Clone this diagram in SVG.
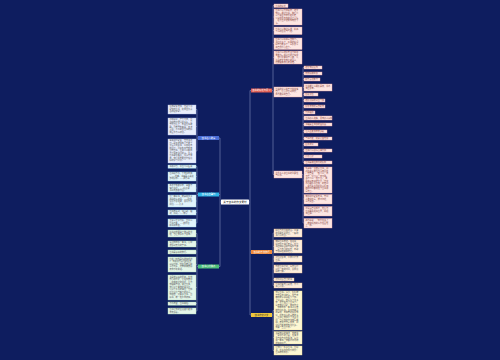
<svg xmlns="http://www.w3.org/2000/svg" width="500" height="360" viewBox="0 0 500 360">
<style>
.t{font-family:"Noto Sans CJK SC","Noto Sans",sans-serif;font-size:2.1px;fill:#5a5a5a}
.tr{font-family:"Noto Sans CJK SC","Noto Sans",sans-serif;font-size:2.1px;fill:#8a4a45}
.h{font-family:"Noto Sans CJK SC","Noto Sans",sans-serif;font-size:2.3px;fill:#fff;text-anchor:middle}
.c{font-family:"Noto Sans CJK SC","Noto Sans",sans-serif;font-size:2.6px;fill:#222;text-anchor:middle}
.lb{fill:#e9eefc;stroke:#aebde8;stroke-width:0.4}
.lc{fill:#e1f4fb;stroke:#9fd6ec;stroke-width:0.4}
.lg{fill:#e5f6ea;stroke:#a8dcb8;stroke-width:0.4}
.lr{fill:#fde6e3;stroke:#eea79f;stroke-width:0.4}
.lo{fill:#fdeedd;stroke:#f0bf90;stroke-width:0.4}
.ly{fill:#fdf7d3;stroke:#eedc8a;stroke-width:0.4}
.k{fill:none;stroke:#9aa6cc;stroke-width:0.5}
</style>
<rect width="500" height="360" fill="#0e1d5f"/>
<g id="connectors" class="k">
<path d="M221,202H220M220,138V266.5M220,138H219M220,194.5H219M220,266.5H219"/>
<path d="M198,138H197M197,109.5V151M197,109.5H196M197,126.5H196M197,151H196"/>
<path d="M198,194.5H197M197,166.5V223M197,166.5H196M197,176.5H196M197,188H196M197,201H196M197,212.5H196M197,223H196"/>
<path d="M198,266.5H197M197,233.5V311M197,233.5H196M197,244H196M197,252H196M197,264.5H196M197,287.5H196M197,303.5H196M197,311H196"/>
<path d="M249,202H250M250,90.5V315M250,90.5H251M250,252H251M250,315H251"/>
<path d="M272,90.5H273M273,5.5V174.5M273,5.5H274M273,17H274M273,30.5H274M273,43.5H274M273,57.5H274M273,92H274M273,174.5H274"/>
<path d="M302,92H303M303,67.5V162.5M303,67.5H304M303,73.5H304M303,79.5H304M303,87.5H304M303,94.5H304M303,100.5H304M303,106.5H304M303,112.5H304M303,118H304M303,124.5H304M303,131.5H304M303,138.5H304M303,144.5H304M303,150.5H304M303,156.5H304M303,162.5H304"/>
<path d="M302,174.5H303M303,174.5V223M303,180H304M303,199H304M303,211H304M303,223H304"/>
<path d="M272,252H273M273,233V285.5M273,233H274M273,246.5H274M273,259H274M273,269H274M273,279.5H274M273,285.5H274"/>
<path d="M272,315H273M273,310.5V350.5M273,310.5H274M273,337.5H274M273,350.5H274"/>
</g>
<g id="center"><rect x="221" y="199.5" width="28" height="5" rx="0.6" fill="#fff"/><text class="c" x="235" y="203">关于读书的作文素材</text></g>
<g id="b-blue"><rect x="198" y="136" width="21" height="4" fill="#4a6ed8"/><text class="h" x="208.5" y="138.9">读书名人故事</text></g>
<g id="b-cyan"><rect x="198" y="192.5" width="21" height="4" fill="#2fb4e6"/><text class="h" x="208.5" y="195.4">读书名言警句</text></g>
<g id="b-green"><rect x="198" y="264.5" width="21" height="4" fill="#4cc07a"/><text class="h" x="208.5" y="267.4">读书心得体会</text></g>
<g id="b-red"><rect x="251" y="88.5" width="21" height="4" fill="#e05a50"/><text class="h" x="261.5" y="91.4">读书的好处与意义</text></g>
<g id="b-orange"><rect x="251" y="250" width="21" height="4" fill="#f08a3c"/><text class="h" x="261.5" y="252.9">读书的方法技巧</text></g>
<g id="b-yellow"><rect x="251" y="313" width="21" height="4" fill="#efc63c"/><text class="h" x="261.5" y="315.9" style="fill:#333">读书作文范文</text></g>

<g id="l1"><rect class="lb" x="168" y="105" width="28" height="9"/><text class="t"><tspan x="169.4" y="107.4">匡衡家贫无烛，凿壁引邻</tspan><tspan x="169.4" y="109.9">家烛光读书，终成西汉著</tspan><tspan x="169.4" y="112.4">名的经学家。</tspan></text></g>
<g id="l2"><rect class="lb" x="168" y="118" width="28" height="17"/><text class="t"><tspan x="169.4" y="120.4">孙敬好学，晨夕不休，读</tspan><tspan x="169.4" y="122.9">书疲倦时便以绳系头，悬</tspan><tspan x="169.4" y="125.4">于屋梁之上；苏秦读书欲</tspan><tspan x="169.4" y="127.9">睡，引锥自刺其股，血流</tspan><tspan x="169.4" y="130.4">至足。二人刻苦读书的精</tspan><tspan x="169.4" y="132.9">神至今为人称道。</tspan></text></g>
<g id="l3"><rect class="lb" x="168" y="139" width="28" height="24"/><text class="t"><tspan x="169.4" y="141.4">车胤幼时家贫，常无油点</tspan><tspan x="169.4" y="143.9">灯，夏夜便用练囊装数十</tspan><tspan x="169.4" y="146.4">只萤火虫照书，以夜继日</tspan><tspan x="169.4" y="148.9">地苦读；孙康冬夜常映着</tspan><tspan x="169.4" y="151.4">雪光读书，后来二人都成</tspan><tspan x="169.4" y="153.9">为了很有学问的人。古人</tspan><tspan x="169.4" y="156.4">读书条件艰苦，却从不放</tspan><tspan x="169.4" y="158.9">弃，我们今天更应珍惜良</tspan><tspan x="169.4" y="161.4">好的学习环境。</tspan></text></g>
<g id="l4"><rect class="lc" x="168" y="165" width="28" height="3.2"/><text class="t"><tspan x="169.4" y="167.4">书犹药也，善读可以医愚</tspan></text></g>
<g id="l5"><rect class="lc" x="168" y="172" width="28" height="9"/><text class="t"><tspan x="169.4" y="174.4">读书破万卷，下笔如有神</tspan><tspan x="169.4" y="176.9">。——杜甫。书籍是人类进</tspan><tspan x="169.4" y="179.4">步的阶梯。——高尔基</tspan></text></g>
<g id="l6"><rect class="lc" x="168" y="184" width="28" height="8"/><text class="t"><tspan x="169.4" y="186.2">黑发不知勤学早，白首方</tspan><tspan x="169.4" y="188.6">悔读书迟。——颜真卿</tspan><tspan x="169.4" y="191">书山有路勤为径。</tspan></text></g>
<g id="l7"><rect class="lc" x="168" y="195" width="28" height="12"/><text class="t"><tspan x="169.4" y="197.4">读一本好书，就是和许多</tspan><tspan x="169.4" y="199.9">高尚的人谈话。——歌德</tspan><tspan x="169.4" y="202.4">学而不思则罔，思而不学</tspan><tspan x="169.4" y="204.9">则殆。——孔子</tspan></text></g>
<g id="l8"><rect class="lc" x="168" y="210" width="28" height="5"/><text class="t"><tspan x="169.4" y="212">读书有三到，谓心到、眼</tspan><tspan x="169.4" y="214.4">到、口到。——朱熹</tspan></text></g>
<g id="l9"><rect class="lc" x="168" y="219" width="28" height="8"/><text class="t"><tspan x="169.4" y="221.2">立身以立学为先，立学以</tspan><tspan x="169.4" y="223.6">读书为本。——欧阳修</tspan><tspan x="169.4" y="226">好书如挚友。</tspan></text></g>
<g id="l10"><rect class="lg" x="168" y="230" width="28" height="7"/><text class="t"><tspan x="169.4" y="232.6">读书使我明白了做人的道</tspan><tspan x="169.4" y="235.1">理，也让我学会了思考。</tspan></text></g>
<g id="l11"><rect class="lg" x="168" y="241" width="28" height="6"/><text class="t"><tspan x="169.4" y="243.2">每当我捧起一本书，心中</tspan><tspan x="169.4" y="245.7">便感到无比的宁静。</tspan></text></g>
<g id="l12"><rect class="lg" x="168" y="250" width="28" height="4"/><text class="t"><tspan x="169.4" y="252.8">读书是最好的旅行。</tspan></text></g>
<g id="l13"><rect class="lg" x="168" y="257" width="28" height="15"/><text class="t"><tspan x="169.4" y="259.6">读完《钢铁是怎样炼成的</tspan><tspan x="169.4" y="262.1">》，我被保尔顽强的意志</tspan><tspan x="169.4" y="264.6">深深打动。他在困难面前</tspan><tspan x="169.4" y="267.1">从不低头，这种精神激励</tspan><tspan x="169.4" y="269.6">着我不断前进。</tspan></text></g>
<g id="l14"><rect class="lg" x="168" y="275" width="28" height="25"/><text class="t"><tspan x="169.4" y="277.6">书是我最好的朋友。在我</tspan><tspan x="169.4" y="280.1">伤心的时候，它给我安慰</tspan><tspan x="169.4" y="282.6">；在我迷茫的时候，它为</tspan><tspan x="169.4" y="285.1">我指明方向。通过读书，</tspan><tspan x="169.4" y="287.6">我认识了勇敢的鲁滨孙，</tspan><tspan x="169.4" y="290.1">认识了善良的海伦，也懂</tspan><tspan x="169.4" y="292.6">得了坚持与努力的意义。</tspan><tspan x="169.4" y="295.1">我相信，只要多读书、读</tspan><tspan x="169.4" y="297.6">好书，就一定会有收获。</tspan></text></g>
<g id="l15"><rect class="lg" x="168" y="302" width="28" height="3.2"/><text class="t"><tspan x="169.4" y="304.4">开卷有益，读书明理。</tspan></text></g>
<g id="l16"><rect class="lg" x="168" y="308" width="28" height="6"/><text class="t"><tspan x="169.4" y="310.2">读书让我的生活变得更加</tspan><tspan x="169.4" y="312.7">丰富多彩。</tspan></text></g>

<g id="r1"><rect class="lr" x="274" y="4" width="14" height="3.5"/><text class="tr"><tspan x="275.4" y="6.5">读书的好处</tspan></text></g>
<g id="r2"><rect class="lr" x="274" y="9" width="28" height="16"/><text class="tr"><tspan x="275.4" y="11.4">读书可以开阔视野，增长</tspan><tspan x="275.4" y="13.9">知识。通过读书，我们可</tspan><tspan x="275.4" y="16.4">以了解古今中外的历史，</tspan><tspan x="275.4" y="18.9">认识世界各地的风土人情</tspan><tspan x="275.4" y="21.4">，足不出户便能知晓天下</tspan><tspan x="275.4" y="23.9">事。</tspan></text></g>
<g id="r3"><rect class="lr" x="274" y="27" width="28" height="7.5"/><text class="tr"><tspan x="275.4" y="29.8">读书可以陶冶情操，提高</tspan><tspan x="275.4" y="32.3">个人的修养与气质。</tspan></text></g>
<g id="r4"><rect class="lr" x="274" y="38" width="28" height="11.5"/><text class="tr"><tspan x="275.4" y="40.4">读书可以提高写作能力。</tspan><tspan x="275.4" y="42.9">书读得多了，积累的好词</tspan><tspan x="275.4" y="45.4">好句也就多了，写起文章</tspan><tspan x="275.4" y="47.9">来自然得心应手。</tspan></text></g>
<g id="r5"><rect class="lr" x="274" y="51" width="28" height="13"/><text class="tr"><tspan x="275.4" y="53.2">读书可以培养专注力和思</tspan><tspan x="275.4" y="55.7">考能力。在阅读的过程中</tspan><tspan x="275.4" y="58.2">，我们需要静下心来，认</tspan><tspan x="275.4" y="60.7">真品味文字背后的含义，</tspan><tspan x="275.4" y="63.2">这能锻炼我们的思维。</tspan></text></g>
<g id="r6"><rect class="lr" x="274" y="87" width="28" height="10"/><text class="tr"><tspan x="275.4" y="89.6">读书的意义在于不断充实</tspan><tspan x="275.4" y="92.1">自己，让心灵得到成长，</tspan><tspan x="275.4" y="94.6">成为更好的自己。</tspan></text></g>
<g id="r7"><rect class="lr" x="274" y="171" width="28" height="7"/><text class="tr"><tspan x="275.4" y="173.6">古今名人谈读书的重要性</tspan><tspan x="275.4" y="176.1">与价值。</tspan></text></g>

<g id="s1"><rect class="lr" x="304" y="66" width="18" height="3"/><text class="tr"><tspan x="305.3" y="68.3">增长知识见闻</tspan></text></g>
<g id="s2"><rect class="lr" x="304" y="72" width="18" height="3"/><text class="tr"><tspan x="305.3" y="74.3">丰富精神世界</tspan></text></g>
<g id="s3"><rect class="lr" x="304" y="78" width="16" height="3"/><text class="tr"><tspan x="305.3" y="80.3">提升表达能力</tspan></text></g>
<g id="s4"><rect class="lr" x="304" y="84" width="28" height="7"/><text class="tr"><tspan x="305.4" y="86.6">读书能让人明辨是非，学会</tspan><tspan x="305.4" y="89.1">独立思考。</tspan></text></g>
<g id="s5"><rect class="lr" x="304" y="93" width="14" height="3"/><text class="tr"><tspan x="305.3" y="95.3">修身养性</tspan></text></g>
<g id="s6"><rect class="lr" x="304" y="99" width="21" height="3"/><text class="tr"><tspan x="305.3" y="101.3">培养良好的阅读习惯</tspan></text></g>
<g id="s7"><rect class="lr" x="304" y="105" width="21" height="3"/><text class="tr"><tspan x="305.3" y="107.3">积累丰富的写作素材</tspan></text></g>
<g id="s8"><rect class="lr" x="304" y="111" width="11" height="3"/><text class="tr"><tspan x="305.3" y="113.3">开阔眼界</tspan></text></g>
<g id="s9"><rect class="lr" x="304" y="116" width="28" height="4"/><text class="tr"><tspan x="305.4" y="118.8">读书使人充实，思考使人深刻</tspan></text></g>
<g id="s10"><rect class="lr" x="304" y="123" width="28" height="3"/><text class="tr"><tspan x="305.4" y="125.3">书籍是全世界的营养品</tspan></text></g>
<g id="s11"><rect class="lr" x="304" y="130" width="23" height="3"/><text class="tr"><tspan x="305.4" y="132.3">让人生更加丰富多彩</tspan></text></g>
<g id="s12"><rect class="lr" x="304" y="137" width="28" height="3"/><text class="tr"><tspan x="305.4" y="139.3">与书为友，终身受益无穷</tspan></text></g>
<g id="s13"><rect class="lr" x="304" y="143" width="14" height="3"/><text class="tr"><tspan x="305.3" y="145.3">启迪智慧</tspan></text></g>
<g id="s14"><rect class="lr" x="304" y="149" width="28" height="3"/><text class="tr"><tspan x="305.4" y="151.3">读书可以使人心胸开阔</tspan></text></g>
<g id="s15"><rect class="lr" x="304" y="155" width="18" height="3"/><text class="tr"><tspan x="305.3" y="157.3">净化心灵</tspan></text></g>
<g id="s16"><rect class="lr" x="304" y="161" width="28" height="3"/><text class="tr"><tspan x="305.4" y="163.3">读书是通往成功的阶梯</tspan></text></g>

<g id="m1"><rect class="lr" x="304" y="167" width="28" height="26"/><text class="tr"><tspan x="305.4" y="169.4">毛泽东一生酷爱读书，即</tspan><tspan x="305.4" y="171.9">使在战争年代也从未间断</tspan><tspan x="305.4" y="174.4">。他曾说：“饭可以一日</tspan><tspan x="305.4" y="176.9">不吃，觉可以一日不睡，</tspan><tspan x="305.4" y="179.4">书不可以一日不读。”周</tspan><tspan x="305.4" y="181.9">恩来少年时便立下“为中</tspan><tspan x="305.4" y="184.4">华之崛起而读书”的志向</tspan><tspan x="305.4" y="186.9">。鲁迅先生也把别人喝咖</tspan><tspan x="305.4" y="189.4">啡的时间都用在了读书和</tspan><tspan x="305.4" y="191.9">写作上。</tspan></text></g>
<g id="m2"><rect class="lr" x="304" y="194.5" width="28" height="9.5"/><text class="tr"><tspan x="305.4" y="197">宋濂幼时家贫无书，常向</tspan><tspan x="305.4" y="199.5">人借书抄写，按时归还，</tspan><tspan x="305.4" y="202">从不失信。</tspan></text></g>
<g id="m3"><rect class="lr" x="304" y="206.5" width="28" height="9.5"/><text class="tr"><tspan x="305.4" y="209">华罗庚自学成才，他认为</tspan><tspan x="305.4" y="211.5">读书要先把书读厚，再把</tspan><tspan x="305.4" y="214">书读薄。</tspan></text></g>
<g id="m4"><rect class="lr" x="304" y="218.5" width="28" height="9.5"/><text class="tr"><tspan x="305.4" y="221">高尔基说：“我扑在书上</tspan><tspan x="305.4" y="223.5">，就像饥饿的人扑在面包</tspan><tspan x="305.4" y="226">上一样。”</tspan></text></g>

<g id="o1"><rect class="lo" x="274" y="229" width="28" height="8"/><text class="t"><tspan x="275.4" y="231.2">精读与泛读相结合。重要</tspan><tspan x="275.4" y="233.6">的书要反复研读，一般的</tspan><tspan x="275.4" y="236">书可以浏览。</tspan></text></g>
<g id="o2"><rect class="lo" x="274" y="240" width="28" height="13"/><text class="t"><tspan x="275.4" y="242.2">做好读书笔记。俗话说，</tspan><tspan x="275.4" y="244.7">好记性不如烂笔头。在读</tspan><tspan x="275.4" y="247.2">书时将好词好句摘抄下来</tspan><tspan x="275.4" y="249.7">，写下自己的感想，有助</tspan><tspan x="275.4" y="252.2">于加深理解和记忆。</tspan></text></g>
<g id="o3"><rect class="lo" x="274" y="256" width="28" height="6"/><text class="t"><tspan x="275.4" y="258.2">边读边思考，带着问题去</tspan><tspan x="275.4" y="260.7">读书。</tspan></text></g>
<g id="o4"><rect class="lo" x="274" y="265" width="28" height="8"/><text class="t"><tspan x="275.4" y="267.2">制定读书计划，每天坚持</tspan><tspan x="275.4" y="269.6">阅读一定的时间，养成良</tspan><tspan x="275.4" y="272">好的习惯。</tspan></text></g>
<g id="o5"><rect class="lo" x="274" y="278" width="20" height="3"/><text class="t"><tspan x="275.4" y="280.3">选择适合自己的书</tspan></text></g>
<g id="o6"><rect class="lo" x="274" y="283" width="28" height="5"/><text class="t"><tspan x="275.4" y="285">读书时要专心致志，不可</tspan><tspan x="275.4" y="287.4">三心二意。</tspan></text></g>

<g id="y1"><rect class="ly" x="274" y="291" width="28" height="39"/><text class="t"><tspan x="275.4" y="293.4">我爱读书。从小，妈妈就</tspan><tspan x="275.4" y="295.9">常常给我讲故事，那些有</tspan><tspan x="275.4" y="298.4">趣的故事深深吸引了我。</tspan><tspan x="275.4" y="300.9">上学以后，我认识了许多</tspan><tspan x="275.4" y="303.4">字，便开始自己读书了。</tspan><tspan x="275.4" y="305.9">每天放学回家，做完作业</tspan><tspan x="275.4" y="308.4">，我就捧起一本书津津有</tspan><tspan x="275.4" y="310.9">味地读起来。书中有美丽</tspan><tspan x="275.4" y="313.4">的童话，有神奇的科学知</tspan><tspan x="275.4" y="315.9">识，还有感人的英雄故事</tspan><tspan x="275.4" y="318.4">。读书让我懂得了许多道</tspan><tspan x="275.4" y="320.9">理，也让我的作文越写越</tspan><tspan x="275.4" y="323.4">好。老师常常表扬我，同</tspan><tspan x="275.4" y="325.9">学们也都夸我知道得多。</tspan><tspan x="275.4" y="328.4">我要一直读下去。</tspan></text></g>
<g id="y2"><rect class="ly" x="274" y="331.5" width="28" height="12.5"/><text class="t"><tspan x="275.4" y="333.8">书是知识的海洋，我就像</tspan><tspan x="275.4" y="336.3">一条快乐的小鱼，在海洋</tspan><tspan x="275.4" y="338.8">里自由自在地遨游。每读</tspan><tspan x="275.4" y="341.3">完一本书，我都会有新的</tspan><tspan x="275.4" y="343.6">收获和感悟。</tspan></text></g>
<g id="y3"><rect class="ly" x="274" y="346" width="28" height="9"/><text class="t"><tspan x="275.4" y="348.4">让我们一起多读书，读好</tspan><tspan x="275.4" y="350.9">书，在书香中快乐成长！</tspan><tspan x="275.4" y="353.4">读书伴我成长。</tspan></text></g>
</svg>
